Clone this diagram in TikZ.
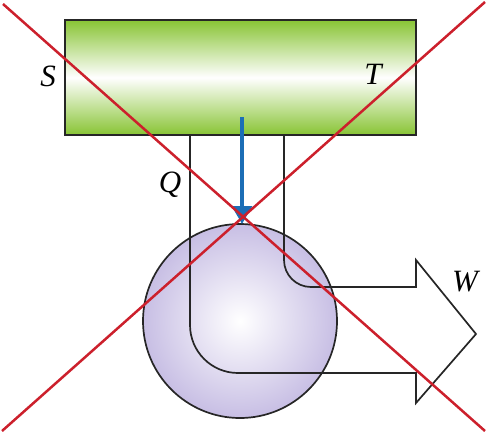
\documentclass[tikz,border=0pt]{standalone}
\usepackage{fontspec}
\setmainfont{Liberation Serif}
\usetikzlibrary{arrows.meta}
\definecolor{bargreen}{RGB}{136,196,52}
\definecolor{ballpurple}{RGB}{146,128,202}
\definecolor{flowblue}{RGB}{28,110,182}
\definecolor{crossred}{RGB}{204,32,44}
\pgfdeclareradialshading{ballshade}{\pgfpoint{0bp}{0bp}}{color(0bp)=(white); color(49bp)=(ballpurple); color(50bp)=(ballpurple)}
\begin{document}
\begin{tikzpicture}[x=1pt,y=-1pt,
  lbl/.style={font=\fontsize{31}{31}\selectfont\itshape, anchor=base, inner sep=0pt},
  wire/.style={line width=1.7pt, black!85},
  flow/.style={line width=3.4pt, flowblue, -{Triangle[length=18pt,width=20pt]}},
  crossline/.style={line width=2.5pt, crossred}]
\useasboundingbox (0,0) rectangle (486,434);
% hot reservoir
\shade[top color=bargreen, bottom color=bargreen, middle color=white] (65,20) rectangle (416,135);
\draw[wire] (65,20) rectangle (416,135);
% engine
\shade[shading=ballshade] (240,321) circle[radius=97];
\draw[wire] (240,321) circle[radius=97];
% heat and work path
\draw[wire] (190,135) -- (190,325) arc[start angle=180, end angle=90, radius=48]
  -- (416,373) -- (416,403) -- (476,334) -- (416,260) -- (416,287) -- (311,287)
  arc[start angle=90, end angle=180, radius=27] -- (284,135);
% labels
\node[lbl] (s) at (48,86) {S};
\node[lbl] (t) at (373,84) {T};
\node[lbl] (q) at (170,192) {Q};
\node[lbl] (w) at (465,291) {W};
% heat flow
\coordinate (qtop) at (242,117);
\coordinate (qbot) at (242,224);
\draw[flow] (qtop) -- (qbot);
% cross
\coordinate (x1) at (3,4);
\coordinate (x2) at (485,431);
\coordinate (x3) at (485,2);
\coordinate (x4) at (2,431);
\draw[crossline] (x1) -- (x2);
\draw[crossline] (x3) -- (x4);
\end{tikzpicture}
\end{document}
